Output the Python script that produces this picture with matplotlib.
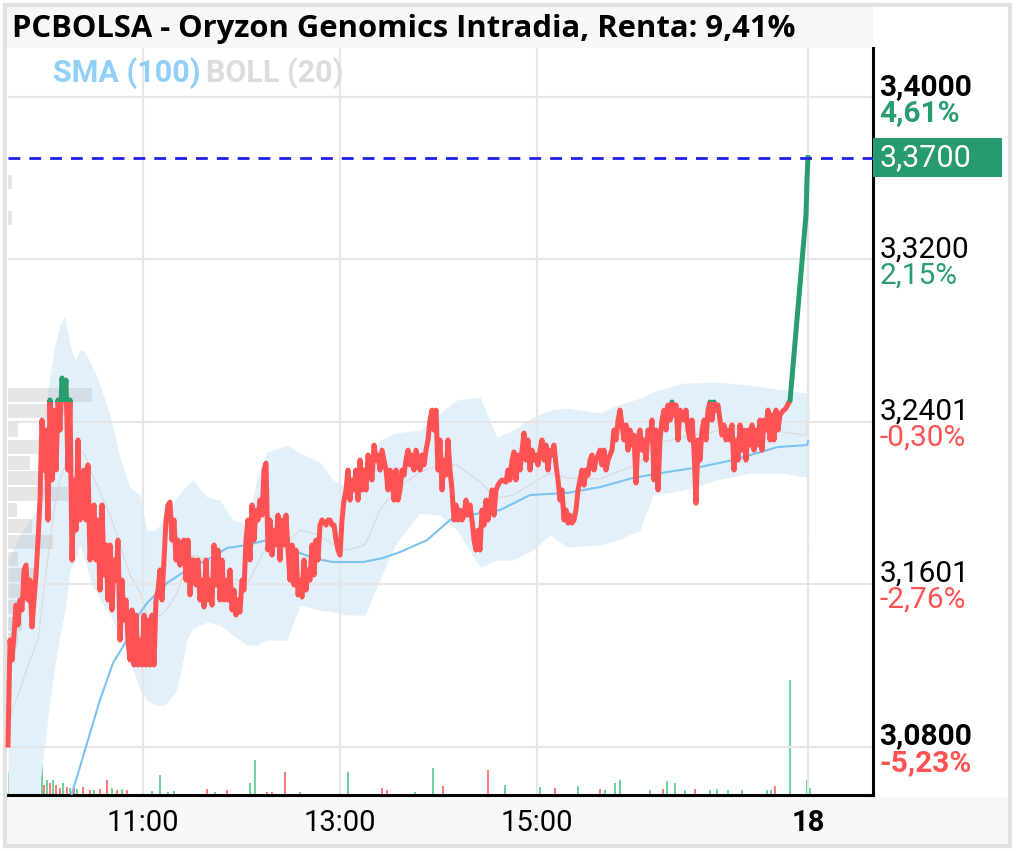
import matplotlib.pyplot as plt
import matplotlib.transforms as mtransforms
from matplotlib.patches import Rectangle

plt.rcParams['font.family'] = ['Roboto', 'DejaVu Sans']
plt.rcParams['lines.scale_dashes'] = False

# *** chart data ***
TITLE = "PCBOLSA - Oryzon Genomics Intradia, Renta: 9,41%"
prev_close = 3.2498
last_price = 3.37
last_txt = "3,3700"

# intraday price, one value per chart slot
price = [
    3.0808, 3.1325, 3.1227, 3.1350, 3.1497, 3.1399, 3.1522, 3.1473, 3.1670, 3.1694,
    3.1522, 3.1620, 3.1389, 3.1522, 3.1645, 3.1817, 3.2014, 3.2408, 3.2162, 3.2359,
    3.1916, 3.2507, 3.2113, 3.2457, 3.2162, 3.2507, 3.2359, 3.2615, 3.2507, 3.2605,
    3.2162, 3.2507, 3.1719, 3.2113, 3.1866, 3.2310, 3.1916, 3.2014, 3.2162, 3.1916,
    3.2187, 3.1719, 3.1866, 3.1990, 3.1719, 3.1916, 3.1571, 3.1990, 3.1645, 3.1793,
    3.1522, 3.1793, 3.1473, 3.1719, 3.1620, 3.1817, 3.1325, 3.1620, 3.1423, 3.1522,
    3.1325, 3.1227, 3.1473, 3.1202, 3.1448, 3.1202, 3.1325, 3.1202, 3.1448, 3.1202,
    3.1423, 3.1202, 3.1448, 3.1202, 3.1522, 3.1571, 3.1670, 3.1522, 3.1719, 3.1916,
    3.1990, 3.2004, 3.1817, 3.1916, 3.1719, 3.1817, 3.1694, 3.1793, 3.1817, 3.1620,
    3.1817, 3.1547, 3.1719, 3.1719, 3.1596, 3.1719, 3.1522, 3.1620, 3.1488, 3.1719,
    3.1522, 3.1620, 3.1497, 3.1793, 3.1596, 3.1768, 3.1522, 3.1719, 3.1522, 3.1620,
    3.1522, 3.1670, 3.1473, 3.1571, 3.1448, 3.1522, 3.1463, 3.1620, 3.1571, 3.1817,
    3.1916, 3.1719, 3.1990, 3.1817, 3.1965, 3.1916, 3.2014, 3.1940, 3.2162, 3.2196,
    3.1768, 3.1916, 3.1743, 3.1866, 3.1793, 3.1940, 3.1719, 3.1916, 3.1793, 3.1940,
    3.1768, 3.1620, 3.1793, 3.1596, 3.1768, 3.1547, 3.1620, 3.1537, 3.1719, 3.1571,
    3.1670, 3.1620, 3.1793, 3.1645, 3.1817, 3.1719, 3.1891, 3.1916, 3.1906, 3.1891,
    3.1916, 3.1916, 3.1891, 3.1891, 3.1817, 3.1768, 3.1743, 3.1916, 3.2014, 3.2064,
    3.2162, 3.2014, 3.2113, 3.2064, 3.2162, 3.2014, 3.2211, 3.2064, 3.2162, 3.2064,
    3.2236, 3.2162, 3.2113, 3.2285, 3.2211, 3.2236, 3.2162, 3.2260, 3.2211, 3.2162,
    3.2064, 3.2162, 3.2113, 3.2014, 3.2162, 3.2014, 3.2064, 3.2162, 3.2137, 3.2211,
    3.2260, 3.2187, 3.2236, 3.2162, 3.2260, 3.2211, 3.2162, 3.2236, 3.2187, 3.2260,
    3.2310, 3.2408, 3.2457, 3.2359, 3.2457, 3.2162, 3.2310, 3.2064, 3.2211, 3.2137,
    3.2310, 3.2162, 3.2064, 3.1916, 3.1990, 3.1916, 3.1965, 3.1916, 3.1940, 3.2014,
    3.1940, 3.1990, 3.1916, 3.1817, 3.1768, 3.1866, 3.1768, 3.1965, 3.1891, 3.2014,
    3.1916, 3.1990, 3.2064, 3.1940, 3.2064, 3.2088, 3.2103, 3.2113, 3.2108, 3.2103,
    3.2162, 3.2113, 3.2211, 3.2251, 3.2113, 3.2236, 3.2162, 3.2260, 3.2344, 3.2211,
    3.2310, 3.2162, 3.2260, 3.2211, 3.2236, 3.2187, 3.2260, 3.2310, 3.2211, 3.2285,
    3.2162, 3.2260, 3.2236, 3.2285, 3.2187, 3.2113, 3.2014, 3.2064, 3.1916, 3.1965,
    3.1901, 3.1940, 3.1901, 3.1916, 3.1965, 3.2064, 3.2113, 3.2162, 3.2088, 3.2162,
    3.2137, 3.2211, 3.2236, 3.2162, 3.2211, 3.2236, 3.2260, 3.2187, 3.2260, 3.2162,
    3.2211, 3.2236, 3.2260, 3.2359, 3.2310, 3.2408, 3.2457, 3.2384, 3.2310, 3.2384,
    3.2260, 3.2359, 3.2285, 3.2334, 3.2098, 3.2310, 3.2359, 3.2260, 3.2310, 3.2211,
    3.2359, 3.2310, 3.2408, 3.2113, 3.2359, 3.2064, 3.2310, 3.2408, 3.2457, 3.2359,
    3.2482, 3.2408, 3.2497, 3.2433, 3.2482, 3.2310, 3.2457, 3.2433, 3.2408, 3.2457,
    3.2359, 3.2310, 3.2408, 3.2260, 3.1999, 3.2310, 3.2211, 3.2359, 3.2408, 3.2310,
    3.2457, 3.2497, 3.2408, 3.2497, 3.2457, 3.2482, 3.2408, 3.2334, 3.2384, 3.2310,
    3.2359, 3.2310, 3.2384, 3.2162, 3.2310, 3.2211, 3.2384, 3.2260, 3.2359, 3.2211,
    3.2359, 3.2285, 3.2384, 3.2260, 3.2359, 3.2285, 3.2408, 3.2260, 3.2408, 3.2359,
    3.2457, 3.2310, 3.2433, 3.2310, 3.2457, 3.2359, 3.2433, 3.2448, 3.2457, 3.2467,
    3.2487, 3.2502,
]
# closing auction leg
close_idx = [391, 399, 399.5, 400]
close_price = [3.2502, 3.3418, 3.3590, 3.3700]

# SMA (100)
sma_idx = [31, 32, 36, 41, 46, 52.5, 59.5, 62.5, 69.5, 79.5,
           89.5, 99.5, 109.5, 119.5, 129.5, 137.5, 146, 154.5, 162.5, 177.5,
           187.5, 196, 209.5, 221, 236, 246, 261, 279.5, 296, 312.5,
           329.5, 346, 362.5, 379.5, 384.5, 399.5, 400]
sma_val = [3.0520, 3.0572, 3.0700, 3.0867, 3.1030, 3.1212, 3.1325, 3.1409, 3.1507, 3.1606,
           3.1670, 3.1719, 3.1778, 3.1793, 3.1817, 3.1793, 3.1753, 3.1724, 3.1709, 3.1709,
           3.1729, 3.1758, 3.1817, 3.1916, 3.1950, 3.1965, 3.2039, 3.2049, 3.2078, 3.2123,
           3.2152, 3.2177, 3.2211, 3.2260, 3.2275, 3.2285, 3.2305]

# BOLL (20)
boll_idx = [0, 6, 11, 15, 18, 21, 23.5, 26, 28.5, 31,
            33.5, 36, 38.5, 41, 43.5, 46, 51, 56, 61, 66,
            69.5, 73.5, 78.5, 84.5, 89.5, 92.5, 99.5, 106, 112.5, 119.5,
            124.5, 129.5, 139.5, 146, 156, 162.5, 169.5, 178.5, 186, 193.5,
            206, 216, 224.5, 236, 244.5, 252.5, 262.5, 271, 279.5, 296,
            304.5, 316, 322.5, 337.5, 354.5, 371, 387.5, 399, 400.5]
boll_up = [3.1719, 3.1842, 3.1916, 3.1965, 3.2408, 3.2630, 3.2777, 3.2876, 3.2920, 3.2777,
           3.2703, 3.2753, 3.2743, 3.2694, 3.2644, 3.2580, 3.2433, 3.2221, 3.2078, 3.2039,
           3.1866, 3.1866, 3.1916, 3.2029, 3.2088, 3.2113, 3.2029, 3.2014, 3.1916, 3.1891,
           3.2113, 3.2251, 3.2285, 3.2246, 3.2201, 3.2113, 3.2078, 3.2137, 3.2310, 3.2344,
           3.2359, 3.2443, 3.2507, 3.2521, 3.2324, 3.2359, 3.2423, 3.2457, 3.2467, 3.2443,
           3.2482, 3.2516, 3.2546, 3.2590, 3.2595, 3.2580, 3.2556, 3.2541, 3.3171]
boll_mid = [3.0931, 3.1079, 3.1226, 3.1325, 3.1571, 3.1817, 3.1990, 3.2113, 3.2186, 3.2221,
            3.2211, 3.2260, 3.2236, 3.2162, 3.2113, 3.2054, 3.1940, 3.1793, 3.1645, 3.1561,
            3.1448, 3.1433, 3.1463, 3.1556, 3.1694, 3.1743, 3.1719, 3.1704, 3.1630, 3.1596,
            3.1694, 3.1793, 3.1807, 3.1866, 3.1842, 3.1793, 3.1768, 3.1793, 3.1965, 3.2063,
            3.2152, 3.2191, 3.2186, 3.2103, 3.2024, 3.2039, 3.2098, 3.2147, 3.2122, 3.2118,
            3.2152, 3.2191, 3.2290, 3.2324, 3.2354, 3.2364, 3.2349, 3.2334, 3.2457]
boll_low = [3.0389, 3.0389, 3.0389, 3.0537, 3.0783, 3.1029, 3.1202, 3.1349, 3.1473, 3.1670,
            3.1719, 3.1793, 3.1719, 3.1620, 3.1571, 3.1522, 3.1448, 3.1349, 3.1226, 3.1079,
            3.1029, 3.1005, 3.1005, 3.1079, 3.1325, 3.1384, 3.1413, 3.1399, 3.1349, 3.1300,
            3.1300, 3.1325, 3.1325, 3.1497, 3.1473, 3.1463, 3.1448, 3.1448, 3.1620, 3.1793,
            3.1950, 3.1940, 3.1866, 3.1684, 3.1719, 3.1719, 3.1768, 3.1842, 3.1783, 3.1793,
            3.1817, 3.1866, 3.2039, 3.2063, 3.2113, 3.2147, 3.2147, 3.2127, 3.1743]

# volume (thousand shares), g = up tick, r = down tick
vol_idx = [0, 1, 2.5, 4, 7.5, 9.5, 12, 13, 14.5, 17,
           18, 19.5, 21, 22.5, 24, 26, 27.5, 29.5, 31, 33,
           34.5, 37.5, 41, 43, 46, 49.5, 52, 54.5, 57, 59.5,
           72, 76, 80, 83, 99.5, 103.5, 109.5, 121, 123.5, 129.5,
           132, 138.5, 146, 170, 187, 189.5, 203.5, 212.5, 217.5, 240,
           248.5, 266, 273.5, 285, 296, 298.5, 303.5, 306, 321, 327.5,
           329.5, 333.5, 338.5, 343.5, 351, 354.5, 360, 367, 379.5, 381.5,
           383.5, 391, 399.5, 401]
vol_k = [11.5, 5, 7.5, 4, 9, 4, 8.5, 3.5, 5, 20,
         5, 7.5, 6, 7.5, 5, 3.5, 6, 4, 3.5, 4.5,
         3, 4, 2.5, 2.5, 3, 7.5, 3.5, 2.5, 3, 2.5,
         2, 10, 1.5, 2, 3, 1.5, 2.5, 6, 17.5, 1.5,
         1.5, 11.5, 1.5, 11.5, 3.5, 2.5, 1.5, 13.5, 4.5, 12.5,
         5, 4, 3.5, 4.5, 3, 2.5, 6, 7.5, 2.5, 3,
         7, 6, 2.5, 3, 2.5, 3, 2.5, 2.5, 2.5, 2.5,
         4.5, 57.5, 7.5, 3.5]
vol_side = list("grgrgrgrgg" "rgrgrrgrgr" "grrgrrgrgr" "ggggrgrggr"
                "rrggrrggrr" "ggrgrggggr" "gggrgggggg" "rggg")

# volume profile on the left
profile_price = [3.3580, 3.3403, 3.2531, 3.2452, 3.2359, 3.2275, 3.2196, 3.2123, 3.2044, 3.1965,
                 3.1886, 3.1807, 3.1723, 3.1644, 3.1565, 3.1486, 3.1403, 3.1325, 3.1246]
profile_vol = [2, 2, 42, 21, 5, 17, 11, 17, 30, 4.5,
               12, 22.5, 5, 13.5, 6, 6, 7, 5, 3.5]

ytick_vals = [3.40, 3.32, 3.2401, 3.1601, 3.08]
ytick_txt = ['3,4000', '3,3200', '3,2401', '3,1601', '3,0800']
ytick_pct = ['4,61%', '2,15%', '-0,30%', '-2,76%', '-5,23%']
xtick_idx = [67.5, 166, 264.5, 400]
xtick_txt = ['11:00', '13:00', '15:00', '18']

# *** colours ***
RED = '#ff5252'
GREEN = '#2a9d6f'
BAND = '#e1f0fb'

# *** figure ***
W, H = 1017, 851
fig = plt.figure(figsize=(W / 100, H / 100), dpi=100)

# title strip, time strip and outer frame
fig.patches.append(Rectangle((7 / W, 1 - 48 / H), 866 / W, 41 / H, transform=fig.transFigure,
                             fc='#f7f7f7', ec='none', zorder=0))
fig.patches.append(Rectangle((7 / W, 1 - 845 / H), 1002 / W, 48 / H, transform=fig.transFigure,
                             fc='#f8f8f8', ec='none', zorder=0))
fig.patches.append(Rectangle((5 / W, 1 - 846 / H), 1005 / W, 841 / H, transform=fig.transFigure,
                             fill=False, ec='#e2e2e2', lw=3, zorder=0))

ax = fig.add_axes([8 / W, 56 / H, 865 / W, 747 / H])
vax = ax.twinx()
ax.set_zorder(2)
vax.set_zorder(1)
ax.patch.set_visible(False)

ax.set_xlim(0, 432.5)
ax.set_ylim(3.0562, 3.4240)
vax.set_ylim(0, 373.5)
vax.axis('off')

# volume bars
vcol = ['#6fd49c' if s == 'g' else '#ff7a7a' for s in vol_side]
vax.bar(vol_idx, vol_k, width=0.9, color=vcol, linewidth=0)

# bollinger band
ax.fill_between(boll_idx, boll_low, boll_up, color=BAND, lw=0, zorder=1)
ax.plot(boll_idx, boll_mid, color='#d9cfc6', lw=0.8, alpha=0.7, zorder=1.5)

# volume profile
ax.barh(profile_price, profile_vol, height=0.0069, left=0, color='#c8c8c8', alpha=0.45,
        lw=0, zorder=2)

# SMA
ax.plot(sma_idx, sma_val, color='#7cc3f2', lw=1.5, zorder=3)

# price line, green above previous close and red below
xs = list(range(len(price))) + close_idx[1:]
ys = price + close_price[1:]
below = Rectangle((-50, 2.9), 600, prev_close - 2.9, transform=ax.transData)
above = Rectangle((-50, prev_close), 600, 1.0, transform=ax.transData)
l_red, = ax.plot(xs, ys, color=RED, lw=3.6, zorder=4)
l_red.set_clip_path(below)
l_green, = ax.plot(xs, ys, color=GREEN, lw=3.6, zorder=4)
l_green.set_clip_path(above)

# last price line
ax.axhline(last_price, color='#2020e8', lw=2.0, dashes=(8.5, 6.5), zorder=5)

# axes styling
for s in ['left', 'top']:
    ax.spines[s].set_visible(False)
for s in ['right', 'bottom']:
    ax.spines[s].set_color('black')
    ax.spines[s].set_linewidth(2.2)

ax.set_yticks(ytick_vals)
ax.set_yticklabels([])
ax.set_xticks(xtick_idx)
ax.set_xticklabels(xtick_txt, fontsize=21)
ax.get_xticklabels()[-1].set_fontweight('bold')
ax.tick_params(axis='both', length=0)
ax.tick_params(axis='x', pad=10)
ax.tick_params(axis='y', labelleft=False, labelright=False)
ax.grid(True, color='#e6e6e6', lw=1.5, zorder=0)

# price scale labels
trans = mtransforms.blended_transform_factory(ax.transAxes, ax.transData)
n = len(ytick_vals)
for i, (v, t, p) in enumerate(zip(ytick_vals, ytick_txt, ytick_pct)):
    wt = 'bold' if i in (0, n - 1) else 'normal'
    pc = RED if p.startswith('-') else GREEN
    ax.annotate(t, xy=(1, v), xycoords=trans, xytext=(4.5, 1.5), textcoords='offset points',
                ha='left', va='baseline', fontsize=21.5, fontweight=wt, color='black',
                annotation_clip=False)
    ax.annotate(p, xy=(1, v), xycoords=trans, xytext=(4.5, -1.5), textcoords='offset points',
                ha='left', va='top', fontsize=21.5, fontweight=wt, color=pc,
                annotation_clip=False)

# last price badge
ax.add_patch(Rectangle((1, last_price - 0.0096), 129 / 865, 0.0192, transform=trans,
                       fc='#279a6e', ec='none', clip_on=False, zorder=6))
ax.annotate(last_txt, xy=(1, last_price), xycoords=trans, xytext=(5, 0),
            textcoords='offset points', ha='left', va='center', fontsize=22,
            color='white', annotation_clip=False, zorder=7)

# title and indicator legend
fig.text(12 / W, 1 - 29 / H, TITLE, family=['Open Sans', 'DejaVu Sans'], fontweight='bold',
         fontsize=22.3, va='center', ha='left', color='black')
fig.text(53 / W, 1 - 73 / H, 'SMA (100)', fontsize=22, fontweight='bold', color='#90cff7',
         va='center', ha='left')
fig.text(206 / W, 1 - 73 / H, 'BOLL (20)', fontsize=22, fontweight='bold', color='#dcdcdc',
         va='center', ha='left')

fig.savefig('out.png', dpi=100)
